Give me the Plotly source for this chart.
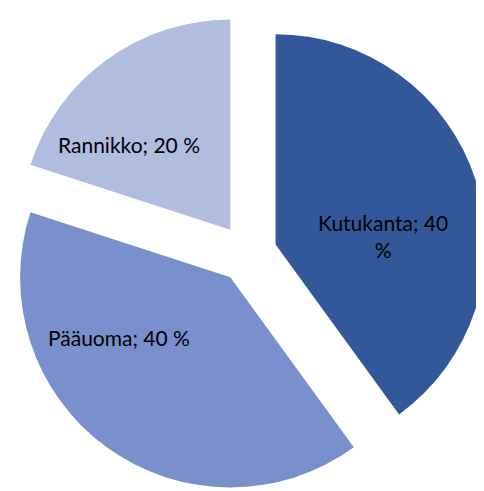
import plotly.graph_objects as go

labels = ['Kutukanta', 'Pääuoma', 'Rannikko']
values = [40, 40, 20]
colors = ['#335899', '#7990CD', '#B1BDDF']

# label text as shown in the chart (Kutukanta wraps onto two lines)
slice_text = ['Kutukanta; 40<br>%', 'Pääuoma; 40 %', 'Rannikko; 20 %']
label_x = [0.775, 0.230, 0.249]
label_y = [0.536, 0.328, 0.721]

fig = go.Figure(data=[
    go.Pie(
        labels=labels,
        values=values,
        textinfo='none',
        sort=False,
        direction='clockwise',
        rotation=0,
        pull=[0.14, 0.14, 0.14],
        marker=dict(colors=colors, line=dict(width=0)),
        domain=dict(x=[0, 0.99], y=[0, 1]),
        hoverinfo='label+percent'
    )
])

for txt, x, y in zip(slice_text, label_x, label_y):
    fig.add_annotation(
        text=txt, x=x, y=y, xref='paper', yref='paper',
        showarrow=False, xanchor='center', yanchor='middle',
        font=dict(family='Lato', size=21, color='black')
    )

fig.update_layout(
    width=484,
    height=491,
    margin=dict(l=0, r=0, t=0, b=0),
    showlegend=False,
    paper_bgcolor='white'
)

fig.write_html("out.html")
